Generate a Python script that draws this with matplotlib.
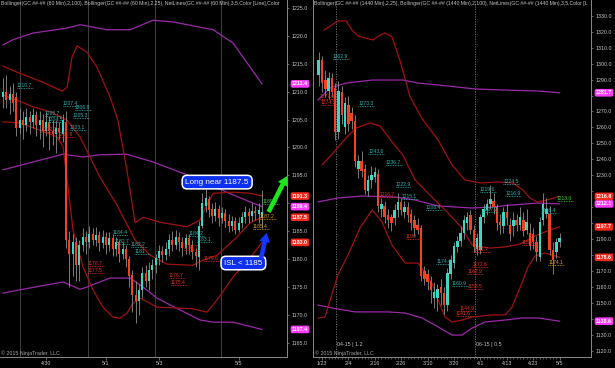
import matplotlib
matplotlib.use('Agg')
import matplotlib.pyplot as plt
import numpy as np

plt.rcParams['font.family'] = ['Liberation Sans', 'DejaVu Sans']

# ---------------- data: hourly (left panel) ----------------
h_open = [1209, 1210, 1208.5, 1209.5, 1209, 1203.5, 1205, 1204, 1205.5, 1204.5,
          1205.8, 1204, 1205, 1203, 1204.5, 1203, 1202.5, 1203.5, 1202.5, 1204.5,
          1183.5, 1181, 1183, 1179, 1182.5, 1184, 1183, 1184.5, 1183.5, 1184.3,
          1182.8, 1184, 1182.5, 1183.8, 1181.8, 1183, 1181, 1181.8, 1180, 1177.2,
          1173.5, 1172.5, 1174.5, 1177.5, 1176, 1178, 1179, 1180.2, 1181.5, 1180.8,
          1181.8, 1183.5, 1182.5, 1184, 1183, 1182, 1183.8, 1182.5, 1181.2, 1180.3,
          1186, 1189.5, 1190.8, 1189, 1187.8, 1189, 1187.3, 1188.3, 1186.8, 1186,
          1186.8, 1185.3, 1186.5, 1187.5, 1188.5, 1187.8, 1188.6, 1188, 1187.5]
h_high = [1212.5, 1213, 1211, 1211.5, 1210, 1207, 1206.5, 1207, 1206.5, 1207,
          1206.5, 1206.5, 1206, 1206.3, 1205.5, 1205, 1205, 1204.5, 1206, 1206.5,
          1185, 1184.5, 1184, 1183.5, 1185.5, 1185, 1186, 1185.5, 1185.8, 1185,
          1185.2, 1184.8, 1184.8, 1184.5, 1184, 1183.5, 1183, 1182.5, 1180.5, 1178,
          1176, 1175.5, 1178.5, 1179, 1179.5, 1180, 1181, 1182.5, 1182.3, 1183,
          1184.5, 1185, 1185.3, 1184.8, 1184, 1184.5, 1184.5, 1183.5, 1182, 1186.8,
          1191.8, 1192.5, 1191.3, 1190, 1190.2, 1189.7, 1189.3, 1189, 1188, 1187.8,
          1187.5, 1187.5, 1188.5, 1189.5, 1189.2, 1190, 1189.5, 1190, 1192.3]
h_low = [1207, 1207, 1206, 1206.5, 1202, 1202.5, 1201.5, 1203, 1202.5, 1203.5,
         1202, 1201.5, 1200, 1202, 1199.5, 1200.5, 1199, 1201.5, 1201, 1182,
         1175, 1177, 1176, 1176, 1181.5, 1181, 1182, 1182.5, 1182.3, 1181.5,
         1182, 1181, 1181.5, 1180.5, 1180.5, 1179.5, 1180, 1178.5, 1175, 1170.5,
         1168.5, 1170, 1173, 1175, 1174.5, 1176.5, 1177.5, 1179, 1179.5, 1179.8,
         1180.5, 1181.5, 1181.8, 1181.5, 1180.5, 1181, 1181, 1180, 1178.5, 1178,
         1185.5, 1188.5, 1187.5, 1186.5, 1186.8, 1186, 1186.5, 1185.8, 1184.8, 1185,
         1184.5, 1184.8, 1185.5, 1186.5, 1186.5, 1186.8, 1187, 1186.5, 1185.5]
h_close = [1210, 1208.5, 1209.5, 1208, 1203.5, 1205, 1204, 1205.5, 1204.5, 1205.8,
           1204, 1205, 1203, 1204.5, 1203, 1202.5, 1203.5, 1202.8, 1205, 1183.5,
           1181, 1183, 1179, 1182.5, 1184, 1183, 1184.5, 1183.5, 1184.3, 1182.8,
           1184, 1182.5, 1183.8, 1181.8, 1183, 1181, 1181.8, 1180, 1177, 1173.5,
           1172.5, 1174.5, 1177.5, 1176, 1178, 1179, 1180.2, 1181.5, 1180.8, 1181.8,
           1183.5, 1182.5, 1184, 1183, 1182, 1183.8, 1182.5, 1181.2, 1180.5, 1186,
           1190, 1191, 1188.8, 1187.8, 1189, 1187.3, 1188.3, 1186.8, 1186, 1186.8,
           1185.3, 1186.5, 1187.5, 1188.5, 1187.8, 1188.6, 1188.2, 1188.8, 1188.5]

# Bollinger (60 min) knots: bar index, price
h_bb25_up_x = [0, 4.2, 12.0, 17.8, 19.3, 20.8, 22.3, 25.3, 28.3, 32.2, 34.6, 37.3, 39.8,
               42.2, 47.3, 55.4, 59.3, 61.4, 63.3, 69.3, 74.4, 78]
h_bb25_up_y = [1214.6, 1213.5, 1211.7, 1210.1, 1210.8, 1216.2, 1218.2, 1217.1, 1214.4, 1209.1,
               1204.9, 1196.0, 1186.5, 1187.5, 1186.6, 1185.8, 1187.0, 1189.7, 1191.8, 1192.0,
               1191.8, 1191.3]
h_bb25_mid_x = [0, 4.2, 9.0, 14.2, 19.3, 23.2, 26.2, 29.2, 34.3, 39.8, 44.3, 49.4, 57.2,
                60.2, 64.5, 70.5, 74.4, 78]
h_bb25_mid_y = [1209.4, 1208.5, 1207.3, 1206.4, 1204.9, 1201.9, 1198.3, 1194.7, 1189.7, 1183.4,
                1180.7, 1179.1, 1178.9, 1179.8, 1180.7, 1184.0, 1186.5, 1187.5]
h_bb25_lo_x = [0, 5.1, 11.1, 16.3, 18.1, 19.3, 21.1, 24.1, 27.1, 30.1, 33.1, 35.2, 37.3,
               39.2, 41.3, 46.4, 57.2, 61.4, 64.5, 69.3, 74.4, 78]
h_bb25_lo_y = [1204.6, 1204.4, 1203.1, 1201.9, 1200.1, 1194.2, 1185.2, 1178.6, 1174.5, 1171.4,
               1169.6, 1169.4, 1170.3, 1172.1, 1173.0, 1171.4, 1171.1, 1170.5, 1172.7, 1176.8,
               1180.2, 1183.0]
h_bb100_up_x = [0, 3.0, 9.0, 19.3, 23.2, 31.3, 38.3, 45.2, 51.2, 63.3, 69.3, 78]
h_bb100_up_y = [1218.4, 1219.3, 1220.5, 1221.4, 1222.0, 1221.1, 1221.1, 1222.8, 1222.5, 1221.1,
                1218.7, 1211.4]
h_bb100_mid_x = [0, 9.0, 18.1, 24.1, 29.2, 37.3, 45.2, 55.4, 69.3, 78]
h_bb100_mid_y = [1196.0, 1197.4, 1198.8, 1198.3, 1198.7, 1198.8, 1197.4, 1195.1, 1191.5, 1189.4]
h_bb100_lo_x = [0, 5.1, 18.1, 23.2, 25.3, 32.2, 38.3, 42.2, 46.4, 53.3, 59.3, 63.3, 69.3, 78]
h_bb100_lo_y = [1173.9, 1174.5, 1175.9, 1174.6, 1175.0, 1176.6, 1176.6, 1175.0, 1173.0, 1170.9,
                1169.1, 1168.7, 1168.7, 1167.4]

# NetLines labels (hourly): bar, price, kind
h_lbl_x = [4.2, 18.1, 21.7, 21.0, 12.6, 13.5, 20.2, 11.5, 16.5, 33.0, 33.6, 38.5, 39.5,
           25.6, 25.6, 55.8, 58.3, 54.5, 50.0, 50.5, 60.5, 78.3, 77.4, 75.3]
h_lbl_p = [1210.7, 1207.4, 1206.8, 1205.3, 1205.7, 1204.5, 1203.1, 1202.7, 1201.8, 1184.4,
           1182.7, 1182.2, 1181.0, 1178.7, 1177.5, 1184.2, 1183.1, 1181.7, 1176.7, 1175.4,
           1179.6, 1189.8, 1187.2, 1185.4]
h_lbl_k = ['c', 'c', 'c', 'c', 'c', 'c', 'c', 'r', 'r', 'c', 'c', 'c', 'c',
           'r', 'r', 'c', 'c', 'r', 'r', 'r', 'r', 'g', 'o', 'o']

h_date_pos = [13, 31, 47, 71]
h_date_lbl = ['4/30', '5/1', '5/3', '5/5']
h_session_breaks = [5.1, 25.6, 45.8, 65.7]

# ---------------- data: daily (right panel) ----------------
d_open = [1293, 1302, 1290, 1283, 1291, 1285, 1257, 1282, 1260, 1274,
          1269, 1264, 1234, 1239, 1234, 1220, 1227, 1229, 1231, 1209,
          1211, 1205, 1204, 1203, 1208, 1213, 1207, 1210, 1206, 1202,
          1199, 1197, 1170, 1168, 1164, 1153, 1153, 1160, 1156, 1149,
          1168, 1175, 1185, 1189, 1194, 1200, 1205, 1196, 1184, 1183,
          1204, 1208, 1212, 1214, 1210, 1201, 1198, 1207, 1199, 1198,
          1202, 1199, 1202, 1196, 1194, 1193, 1188, 1179, 1202, 1206,
          1206, 1183, 1182, 1188]
d_high = [1307, 1305, 1296, 1295, 1294, 1288, 1289, 1286, 1279, 1280,
          1273, 1268, 1243, 1245, 1237, 1230, 1236, 1235, 1234, 1216,
          1214, 1209, 1206, 1212, 1219, 1216, 1214, 1213, 1209, 1205,
          1203, 1199, 1173, 1171, 1167, 1163, 1162, 1165, 1160, 1172,
          1180, 1188, 1192, 1198, 1205, 1207, 1208, 1199, 1194, 1206,
          1212, 1215, 1224, 1219, 1212, 1206, 1210, 1212, 1203, 1207,
          1206, 1210, 1207, 1209, 1200, 1197, 1192, 1204, 1219, 1216,
          1211, 1188, 1191, 1194]
d_low = [1286, 1282, 1279, 1278, 1279, 1252, 1253, 1262, 1256, 1258,
         1259, 1235, 1228, 1229, 1218, 1217, 1222, 1226, 1207, 1204,
         1200, 1197, 1195, 1199, 1204, 1205, 1203, 1201, 1196, 1192,
         1193, 1164, 1161, 1158, 1150, 1147, 1145, 1149, 1143, 1145,
         1165, 1172, 1182, 1186, 1190, 1196, 1193, 1182, 1180, 1181,
         1200, 1205, 1209, 1206, 1196, 1193, 1194, 1199, 1189, 1192,
         1195, 1196, 1192, 1193, 1183, 1184, 1176, 1176, 1199, 1203,
         1180, 1168, 1178, 1185]
d_close = [1302, 1288, 1284, 1291, 1282, 1257, 1283, 1268, 1275, 1262,
           1264, 1239, 1239, 1233, 1221, 1227, 1230, 1232, 1211, 1212,
           1204, 1202, 1200, 1208, 1213, 1208, 1210, 1205, 1200, 1197,
           1196, 1167, 1165, 1163, 1158, 1157, 1159, 1156, 1149, 1169,
           1177, 1186, 1189, 1194, 1202, 1204, 1196, 1185, 1191, 1204,
           1209, 1212, 1215, 1210, 1200, 1199, 1207, 1203, 1193, 1202,
           1199, 1204, 1195, 1201, 1186, 1188, 1182, 1201, 1212, 1209,
           1183, 1177, 1188, 1191]
d_first_bar = -1

d_bb25_up_x = [0.6, 3.0, 4.8, 7.3, 9.1, 10.9, 13.0, 15.5, 17.6, 19.1, 21.2, 23.6, 26.7,
               30.6, 35.2, 39.4, 43.3, 47.9, 53.0, 57.9, 60.9, 63.0, 65.2, 68.2, 72]
d_bb25_up_y = [1321.0, 1324.2, 1326.7, 1326.7, 1321.0, 1317.3, 1316.0, 1314.8, 1317.9, 1319.2,
               1316.7, 1302.2, 1279.1, 1264.7, 1252.1, 1236.5, 1227.1, 1225.2, 1225.8, 1225.2,
               1220.8, 1215.8, 1213.3, 1214.5, 1216.8]
d_bb25_mid_x = [0, 4.2, 7.3, 10.3, 14.5, 17.6, 21.5, 24.5, 28.2, 33.3, 38.2, 42.4, 45.5,
                50.9, 55.5, 60.0, 64.5, 69.1, 72]
d_bb25_mid_y = [1236.5, 1245.9, 1253.4, 1259.6, 1262.8, 1260.9, 1250.2, 1242.7, 1227.1, 1216.4,
                1206.4, 1197.0, 1186.3, 1184.4, 1185.1, 1186.9, 1192.0, 1195.7, 1197.7]
d_bb25_lo_x = [-1.2, 0.9, 4.8, 7.9, 11.5, 15.2, 18.2, 21.2, 25.2, 29.1, 33.3, 35.2, 37.3,
               39.4, 42.4, 45.5, 51.5, 55.5, 57.6, 60.6, 62.4, 64.5, 67.6, 72]
d_bb25_lo_y = [1140.6, 1141.2, 1167.5, 1180.1, 1197.0, 1208.3, 1200.7, 1186.3, 1175.0, 1175.0,
               1162.5, 1151.9, 1141.2, 1138.1, 1139.3, 1141.2, 1142.5, 1142.5, 1147.5, 1162.5,
               1172.5, 1179.4, 1181.3, 1178.6]
d_bb100_up_x = [-1.2, 2.4, 7.3, 10.3, 15.2, 24.5, 29.1, 35.2, 46.4, 55.5, 65.5, 72]
d_bb100_up_y = [1277.2, 1284.7, 1287.8, 1288.5, 1289.7, 1289.7, 1287.8, 1286.6, 1284.1, 1283.4,
                1282.8, 1281.7]
d_bb100_mid_x = [-1.2, 4.8, 12.1, 22.1, 28.2, 35.2, 45.5, 51.5, 57.6, 65.5, 72]
d_bb100_mid_y = [1213.3, 1215.8, 1217.0, 1216.4, 1214.5, 1210.8, 1209.5, 1210.1, 1211.4, 1212.6,
                 1212.1]
d_bb100_lo_x = [-1.2, 3.0, 10.0, 20.0, 25.2, 30.3, 35.2, 39.4, 42.4, 45.5, 49.4, 55.5, 60.6,
                65.5, 69.7, 72]
d_bb100_lo_y = [1148.7, 1146.9, 1144.4, 1144.4, 1143.7, 1140.6, 1135.0, 1129.9, 1129.9, 1134.3,
                1138.1, 1139.3, 1140.6, 1140.6, 1139.3, 1138.6]

d_lbl_x = [3.3, 11.0, -0.6, -0.3, 14.0, 19.3, 22.3, 17.5, 24.2, 31.5, 47.8, 55.0, 55.6,
           48.6, 66.3, 71.2, 25.4, 46.0, 45.6, 34.6, 44.0, 39.3, 44.0, 41.6, 40.6, 60.6, 68.6]
d_lbl_p = [1302.9, 1273.3, 1277.6, 1274.3, 1243.6, 1236.7, 1222.9, 1216.7, 1215.1, 1208.4,
           1219.6, 1224.5, 1216.9, 1207.2, 1206.4, 1213.6, 1190.0, 1181.7, 1172.6, 1174.4,
           1167.9, 1160.9, 1158.5, 1144.9, 1141.6, 1186.5, 1174.1]
d_lbl_k = ['c', 'c', 'r', 'r', 'c', 'c', 'c', 'r', 'c', 'c', 'c', 'c', 'c',
           'c', 'c', 'g', 'r', 'r', 'r', 'c', 'r', 'c', 'r', 'r', 'r', 'r', 'o']

d_date_pos = [0, 8, 16, 24, 32, 40, 48, 56, 64, 72]
d_date_lbl = ['1/23', '2/4', '2/16', '2/26', '3/10', '3/20', '4/1', '4/13', '4/23', '5/5']
d_rollover_pos = [4.25, 46.4]
d_rollover_lbl = ['04-15 | 1.2', '06-15 | 0.5']

# ---------------- style ----------------
BG = 'black'
UP = '#3fd6c6'
DN = '#f2421f'
WICK = '#8e8e8e'
RED_BAND = '#a01212'
PUR_BAND = '#9a2aa8'
SPINE = '#8a8a8a'
TXT = '#c4c4c4'
LBL_COL = {'c': '#35b3ad', 'r': '#e2321e', 'g': '#3ad43a', 'o': '#e0a020'}
TAG_RED = '#f22a1c'
TAG_MAG = '#ff3cff'

W, H = 615, 368
AX_H_PX = 357
fig = plt.figure(figsize=(W / 100, H / 100), dpi=100, facecolor=BG)
axL = fig.add_axes([0, 11 / H, 287 / W, AX_H_PX / H])
axR = fig.add_axes([313 / W, 11 / H, 278 / W, AX_H_PX / H])


def style(ax, left_spine):
    ax.set_facecolor(BG)
    ax.spines['top'].set_visible(False)
    ax.spines['left'].set_visible(left_spine)
    for s in ['right', 'bottom', 'left']:
        ax.spines[s].set_color(SPINE)
        ax.spines[s].set_linewidth(0.7)
    ax.yaxis.tick_right()
    ax.tick_params(axis='y', which='both', colors=SPINE, labelcolor=TXT, labelsize=3.8,
                   length=1.5, width=0.5, pad=1.5)
    ax.tick_params(axis='x', which='major', colors=SPINE, labelcolor=TXT, labelsize=3.8,
                   length=1.8, width=0.5, pad=1.2)
    ax.tick_params(axis='x', which='minor', colors=SPINE, length=1.2, width=0.4)


def price_formatter(ax, tag_values):
    lo, hi = ax.get_ylim()
    ppu = AX_H_PX / (hi - lo)

    def fmt(v, pos):
        for t in tag_values:
            if abs(v - t) * ppu < 7:
                return ''
        return f'{v:.1f}'
    ax.yaxis.set_major_formatter(matplotlib.ticker.FuncFormatter(fmt))


def candles(ax, x, o, h, l, c, width, minbody):
    x = np.asarray(x, float)
    o = np.asarray(o, float); h = np.asarray(h, float)
    l = np.asarray(l, float); c = np.asarray(c, float)
    up = c >= o
    ax.vlines(x, l, h, color=WICK, lw=0.6, zorder=3)
    body = np.maximum(np.abs(c - o), minbody)
    bottom = np.minimum(o, c)
    ax.bar(x[up], body[up], bottom=bottom[up], width=width, color=UP, lw=0, zorder=4)
    ax.bar(x[~up], body[~up], bottom=bottom[~up], width=width, color=DN, lw=0, zorder=4)


def netlabels(ax, xs, ps, ks, length):
    for x, p, k in zip(xs, ps, ks):
        col = LBL_COL[k]
        txt = f'{p:.1f}'
        if txt.endswith('.0'):
            txt = txt[:-2]
        ax.plot([x, x + length], [p, p], color=col, lw=0.6, ls=(0, (1, 1)), zorder=5)
        ax.text(x, p, txt, color=col, fontsize=3.6, ha='left', va='bottom', zorder=5)


def tag(ax, v, col):
    ax.annotate(f'{v:.1f}', xy=(1, v), xycoords=ax.get_yaxis_transform(),
                xytext=(5, 0), textcoords='offset pixels', ha='left', va='center',
                fontsize=3.8, color='white', fontweight='bold',
                bbox=dict(boxstyle='round,pad=0.25,rounding_size=0.35', fc=col, ec='none'),
                annotation_clip=False, zorder=20)


# ---------------- left panel ----------------
style(axL, False)
axL.set_xlim(-0.904, 85.54)
axL.set_ylim(1162.46, 1226.43)
axL.set_yticks(np.arange(1165, 1226, 5))
axL.set_xticks(h_date_pos)
axL.set_xticklabels(h_date_lbl)
for xb in h_session_breaks:
    axL.axvline(xb, color='#4a4a4a', lw=0.6, zorder=1)

h_lines = [(h_bb100_up_x, h_bb100_up_y, PUR_BAND, TAG_MAG), (h_bb100_mid_x, h_bb100_mid_y, PUR_BAND, TAG_MAG),
           (h_bb100_lo_x, h_bb100_lo_y, PUR_BAND, TAG_MAG), (h_bb25_up_x, h_bb25_up_y, RED_BAND, TAG_RED),
           (h_bb25_mid_x, h_bb25_mid_y, RED_BAND, TAG_RED), (h_bb25_lo_x, h_bb25_lo_y, RED_BAND, TAG_RED)]
for xs, ys, col, tcol in h_lines:
    axL.plot(xs, ys, color=col, lw=0.9, zorder=2)
    tag(axL, ys[-1], tcol)
price_formatter(axL, [ys[-1] for _, ys, _, _ in h_lines])

candles(axL, np.arange(len(h_open)), h_open, h_high, h_low, h_close, 0.6, 0.25)
netlabels(axL, h_lbl_x, h_lbl_p, h_lbl_k, 4.8)

axL.text(0.002, 0.996, 'Bollinger(GC ##-## (60 Min),2,100), Bollinger(GC ##-## (60 Min),2,25), '
         'NetLines(GC ##-## (60 Min),3,5,Color [Line],Color',
         transform=axL.transAxes, ha='left', va='top', fontsize=3.7, color=TXT)
axL.text(0.002, 0.012, '\u00a9 2015 NinjaTrader, LLC', transform=axL.transAxes,
         ha='left', va='center', fontsize=3.8, color='#a8a8a8')

# trade annotations
axL.text(64.5, 1193.8, 'Long near 1187.5', ha='center', va='center', fontsize=5.9, color='white',
         bbox=dict(boxstyle='round,pad=0.4,rounding_size=0.6', fc='#0c2ff0', ec='white', lw=1.1),
         zorder=15)
axL.text(72.4, 1179.3, 'ISL < 1185', ha='center', va='center', fontsize=5.8, color='white',
         bbox=dict(boxstyle='round,pad=0.4,rounding_size=0.6', fc='#0c2ff0', ec='white', lw=1.1),
         zorder=15)
a1 = axL.annotate('', xy=(85.9, 1195.3), xytext=(79.6, 1188.0),
                  arrowprops=dict(arrowstyle='simple,head_width=1.3,head_length=1.1,tail_width=0.55',
                                  fc='#1ee61e', ec='none', mutation_scale=6),
                  annotation_clip=False, zorder=16)
a1.arrow_patch.set_clip_on(False)
a2 = axL.annotate('', xy=(79.6, 1185.2), xytext=(77.6, 1179.8),
                  arrowprops=dict(arrowstyle='simple,head_width=1.3,head_length=1.1,tail_width=0.55',
                                  fc='#1436ff', ec='none', mutation_scale=6),
                  annotation_clip=False, zorder=16)
a2.arrow_patch.set_clip_on(False)

# ---------------- right panel ----------------
style(axR, True)
axR.set_xlim(-2.727, 81.52)
axR.set_ylim(1116.15, 1339.84)
axR.set_yticks(np.arange(1120, 1331, 10))
d_x = np.arange(d_first_bar, d_first_bar + len(d_open))
axR.set_xticks(d_date_pos)
axR.set_xticklabels(d_date_lbl)
axR.set_xticks(d_x, minor=True)
for xb, lb in zip(d_rollover_pos, d_rollover_lbl):
    axR.axvline(xb, color='#7a7a7a', lw=0.6, ls=(0, (1.5, 1.5)), zorder=1)
    axR.text(xb + 0.3, 0.034, lb, transform=axR.get_xaxis_transform(), ha='left', va='center',
             fontsize=3.8, color=TXT)

d_lines = [(d_bb100_up_x, d_bb100_up_y, PUR_BAND, TAG_MAG), (d_bb100_mid_x, d_bb100_mid_y, PUR_BAND, TAG_MAG),
           (d_bb100_lo_x, d_bb100_lo_y, PUR_BAND, TAG_MAG), (d_bb25_up_x, d_bb25_up_y, RED_BAND, TAG_RED),
           (d_bb25_mid_x, d_bb25_mid_y, RED_BAND, TAG_RED), (d_bb25_lo_x, d_bb25_lo_y, RED_BAND, TAG_RED)]
for xs, ys, col, tcol in d_lines:
    axR.plot(xs, ys, color=col, lw=0.9, zorder=2)
    tag(axR, ys[-1], tcol)
price_formatter(axR, [ys[-1] for _, ys, _, _ in d_lines])

candles(axR, d_x, d_open, d_high, d_low, d_close, 0.75, 0.8)
netlabels(axR, d_lbl_x, d_lbl_p, d_lbl_k, 4.8)

axR.text(0.004, 0.996, 'Bollinger(GC ##-## (1440 Min),2,25), Bollinger(GC ##-## (1440 Min),2,100), '
         'NetLines(GC ##-## (1440 Min),3,5,Color [L',
         transform=axR.transAxes, ha='left', va='top', fontsize=3.7, color=TXT)
axR.text(0.006, 0.012, '\u00a9 2015 NinjaTrader, LLC', transform=axR.transAxes,
         ha='left', va='center', fontsize=3.8, color='#a8a8a8')

fig.savefig('out.png', dpi=100, facecolor=BG)
